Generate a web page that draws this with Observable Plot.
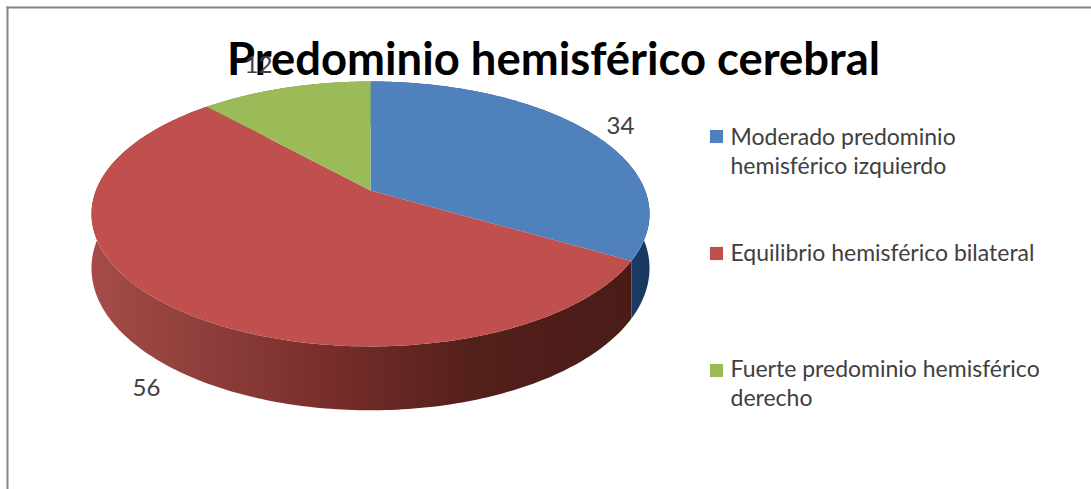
<!DOCTYPE html>
<html>
<head>
<meta charset="utf-8">
<script src="https://cdn.jsdelivr.net/npm/d3@7"></script>
<script src="https://cdn.jsdelivr.net/npm/@observablehq/plot@0.6"></script>
<style>html,body{margin:0;padding:0;background:#fff}svg{display:block}</style>
</head>
<body>
<div id="chart"></div>
<script>
const categories = [
  "Moderado predominio\nhemisférico izquierdo",
  "Equilibrio hemisférico bilateral",
  "Fuerte predominio hemisférico\nderecho"
];
const values = [34, 56, 12];
const title = "Predominio hemisférico cerebral";
const topColors = ["#4f81bd", "#c0504d", "#9bbb59"];
const wallFills = ["url(#wallBlue)", "url(#wallRed)", "#6f8a3c"];

// layout, in pixels
const W = 1091, H = 489;
const cx = 370, cy = 190, kx = 274.6, ky = 128.3, persp = 0.177, depth = 0.41;
const legendLabelDy = [124, 240, 356];
const legendSwatchDy = [136, 253, 370];
const labelPos = [[620, 126], [146, 388], [258, 65]];

// tilted-disc projection: pie units -> scale units
const project = (t, d = 0) => {
  const den = 1 + persp * Math.cos(t);
  return {x: Math.sin(t) / den, y: (Math.cos(t) - d) / den};
};
const total = d3.sum(values);
let acc = 0;
const slices = values.map((v, i) => {
  const a0 = acc / total * 2 * Math.PI;
  acc += v;
  const a1 = acc / total * 2 * Math.PI;
  const n = Math.max(2, Math.ceil((a1 - a0) * 60));
  const ts = d3.range(n + 1).map(k => a0 + (a1 - a0) * k / n);
  return {
    top: [{x: 0, y: 0}, ...ts.map(t => project(t)), {x: 0, y: 0}],
    wall: [...ts.map(t => project(t)), ...ts.slice().reverse().map(t => project(t, depth))],
    top0: topColors[i], wall0: wallFills[i]
  };
});

const gradient = (id, stops) =>
  `<linearGradient id="${id}" x1="0" x2="1" y1="0" y2="0">` +
  stops.map(([o, c]) => `<stop offset="${o}" stop-color="${c}"/>`).join("") +
  `</linearGradient>`;

const defs = () => {
  const g = document.createElementNS("http://www.w3.org/2000/svg", "defs");
  g.innerHTML =
    gradient("wallRed", [[0, "#a54c49"], [0.2, "#8f3f3b"], [0.45, "#772d2a"], [0.7, "#54201c"], [1, "#4a1b17"]]) +
    gradient("wallBlue", [[0, "#254a75"], [0.8, "#1f4570"], [1, "#17375e"]]);
  return g;
};

const text = {fontFamily: "Lato, Carlito, sans-serif", frameAnchor: "top-left"};

const chart = Plot.plot({
  width: W, height: H,
  marginTop: 0, marginRight: 0, marginBottom: 0, marginLeft: 0,
  x: {domain: [-cx / kx, (W - cx) / kx], range: [0, W], axis: null},
  y: {domain: [(cy - H) / ky, cy / ky], range: [H, 0], axis: null},
  marks: [
    defs,
    Plot.frame({anchor: "left", stroke: "#858585", strokeWidth: 2, dx: 7, insetTop: 7}),
    Plot.frame({anchor: "top", stroke: "#858585", strokeWidth: 2, dy: 7, insetLeft: 7}),
    ...slices.map(s => Plot.line(s.wall, {x: "x", y: "y", fill: s.wall0, stroke: "none"})),
    ...slices.map(s => Plot.line(s.top, {x: "x", y: "y", fill: s.top0, stroke: "none"})),
    Plot.text([title], {...text, text: d => d, fontSize: 45.4, fontWeight: 700, fill: "#000",
      textAnchor: "middle", lineAnchor: "middle", dx: 553, dy: 60}),
    ...values.map((v, i) => Plot.text([String(v)], {...text, text: d => d, fontSize: 24, fill: "#404040",
      textAnchor: "middle", lineAnchor: "middle", dx: labelPos[i][0], dy: labelPos[i][1]})),
    ...categories.map((c, i) => Plot.dot([c], {frameAnchor: "top-left", symbol: "square", fill: topColors[i],
      dx: 716, dy: legendSwatchDy[i], r: 7.4})),
    ...categories.map((c, i) => Plot.text([c], {...text, text: d => d, fontSize: 23, fill: "#404040",
      textAnchor: "start", lineAnchor: "top", lineHeight: 1.26, dx: 730, dy: legendLabelDy[i]}))
  ]
});
document.getElementById("chart").append(chart);
</script>
</body>
</html>
